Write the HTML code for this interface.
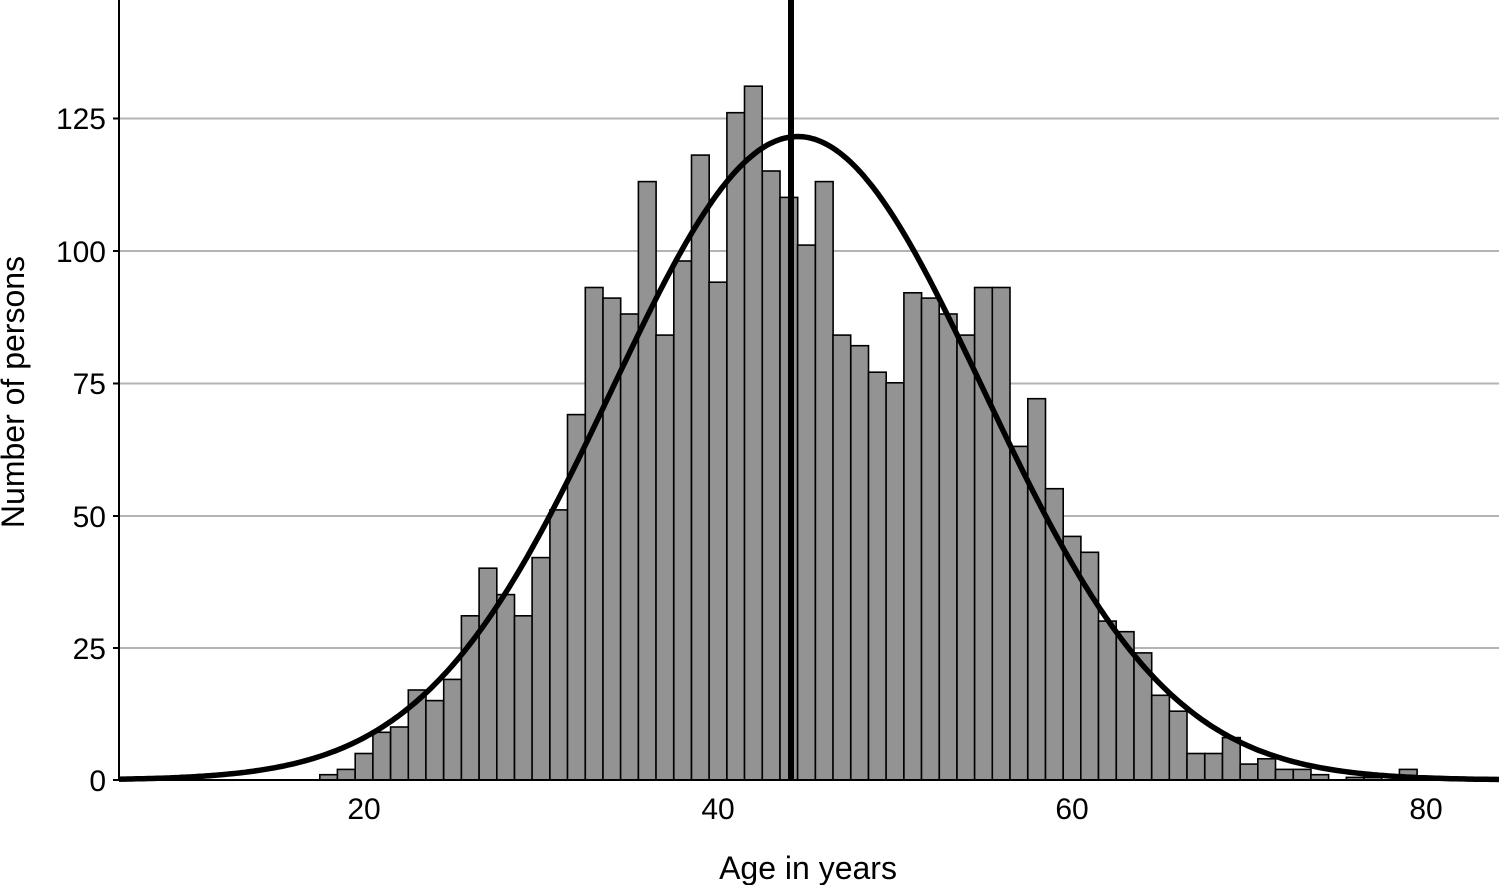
<!DOCTYPE html>
<html><head><meta charset="utf-8"><style>
html,body{margin:0;padding:0;background:#fff;}
svg{display:block;font-family:"Liberation Sans",Arial,sans-serif;}
</style></head><body>
<svg id="s" width="1499" height="885" viewBox="0 0 1499 885" xmlns="http://www.w3.org/2000/svg">
<g id="grid" stroke="#b4b4b4" stroke-width="2">
<line x1="119" x2="1499" y1="118.5" y2="118.5"/>
<line x1="119" x2="1499" y1="251" y2="251"/>
<line x1="119" x2="1499" y1="383.5" y2="383.5"/>
<line x1="119" x2="1499" y1="516" y2="516"/>
<line x1="119" x2="1499" y1="648" y2="648"/>
</g>
<g id="bars" fill="#939393" stroke="#000" stroke-width="1.6"></g>
<path id="curve" fill="none" stroke="#000" stroke-width="5.5"/>
<line x1="791" x2="791" y1="0" y2="780" stroke="#000" stroke-width="6"/>
<line x1="119" x2="119" y1="0" y2="781" stroke="#000" stroke-width="2"/>
<line x1="118" x2="1499" y1="780" y2="780" stroke="#000" stroke-width="2"/>
<g stroke="#000" stroke-width="2">
<line x1="113" x2="119" y1="118.5" y2="118.5"/><line x1="113" x2="119" y1="251" y2="251"/>
<line x1="113" x2="119" y1="383.5" y2="383.5"/><line x1="113" x2="119" y1="516" y2="516"/>
<line x1="113" x2="119" y1="648" y2="648"/><line x1="113" x2="119" y1="780" y2="780"/>
</g>
<g font-size="30" fill="#000" text-anchor="end">
<text x="106" y="129">125</text><text x="106" y="262">100</text>
<text x="106" y="394">75</text><text x="106" y="527">50</text>
<text x="106" y="659">25</text><text x="106" y="791">0</text>
</g>
<g font-size="30" fill="#000" text-anchor="middle">
<text x="364" y="819">20</text><text x="718" y="819">40</text>
<text x="1072" y="819">60</text><text x="1426" y="819">80</text>
<text x="808" y="879" font-size="32">Age in years</text>
<text transform="translate(24,392) rotate(-90)" font-size="32">Number of persons</text>
</g>
</svg>
<script>
var d={18:1,19:2,20:5,21:9,22:10,23:17,24:15,25:19,26:31,27:40,28:35,29:31,30:42,31:51,32:69,33:93,34:91,35:88,36:113,37:84,38:98,39:118,40:94,41:126,42:131,43:115,44:110,45:101,46:113,47:84,48:82,49:77,50:75,51:92,52:91,53:88,54:84,55:93,56:93,57:63,58:72,59:55,60:46,61:43,62:30,63:28,64:24,65:16,66:13,67:5,68:5,69:8,70:3,71:4,72:2,73:2,74:1,76:0.5,77:0.5,79:2};
function X(a){return 718+(a-40)*17.7;}
function Y(v){return 780-v*5.296;}
var g=document.getElementById('bars'),h='';
for(var k in d){var a=+k;var x0=X(a-0.5),y=Y(d[k]);
h+='<rect x="'+x0.toFixed(1)+'" y="'+y.toFixed(1)+'" width="17.7" height="'+(780-y).toFixed(1)+'"/>';}
g.innerHTML=h;
var p='';for(var x=119;x<=1499;x+=3){var a=40+(x-718)/17.7;var v=121.5*Math.exp(-Math.pow(a-44.5,2)/(2*10.5*10.5));
p+=(x==119?'M':'L')+x+','+Y(v).toFixed(1);}
document.getElementById('curve').setAttribute('d',p);
</script>
</body></html>
